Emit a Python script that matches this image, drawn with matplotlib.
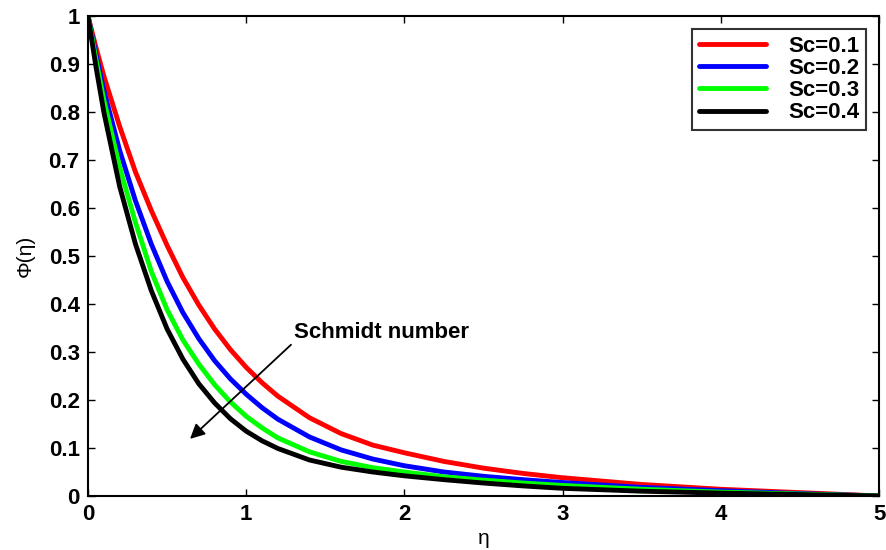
import matplotlib
matplotlib.use("Agg")
import matplotlib.pyplot as plt

# eta grid and concentration profiles
eta = [0, 0.05, 0.1, 0.2, 0.3, 0.4, 0.5, 0.6, 0.7, 0.8, 0.9, 1.0,
       1.1, 1.2, 1.4, 1.6, 1.8, 2.0, 2.25, 2.5, 2.75, 3.0, 3.5, 4.0, 4.5, 5.0]
phi_sc01 = [1.0, 0.935, 0.875, 0.77, 0.675, 0.595, 0.522, 0.455, 0.398, 0.348, 0.305, 0.268,
            0.236, 0.208, 0.163, 0.13, 0.106, 0.09, 0.072, 0.058, 0.047, 0.038,
            0.024, 0.014, 0.007, 0.0]
phi_sc02 = [1.0, 0.92, 0.845, 0.72, 0.615, 0.525, 0.447, 0.382, 0.328, 0.282, 0.244, 0.212,
            0.184, 0.16, 0.123, 0.096, 0.077, 0.063, 0.05, 0.041, 0.034, 0.028,
            0.018, 0.011, 0.005, 0.0]
phi_sc03 = [1.0, 0.91, 0.825, 0.685, 0.57, 0.468, 0.388, 0.325, 0.275, 0.232, 0.196, 0.166,
            0.142, 0.121, 0.092, 0.072, 0.059, 0.05, 0.04, 0.033, 0.027, 0.022,
            0.014, 0.008, 0.004, 0.0]
phi_sc04 = [1.0, 0.895, 0.80, 0.645, 0.525, 0.428, 0.348, 0.285, 0.234, 0.194, 0.161, 0.135,
            0.115, 0.099, 0.075, 0.06, 0.05, 0.042, 0.034, 0.027, 0.021, 0.016,
            0.01, 0.006, 0.003, 0.0]

labels = ["Sc=0.1", "Sc=0.2", "Sc=0.3", "Sc=0.4"]
colors = ["#ff0000", "#0000ff", "#00ff00", "#000000"]

plt.rcParams["font.family"] = ["Liberation Sans", "DejaVu Sans"]

fig = plt.figure(figsize=(8.87, 5.5), dpi=100)
ax = fig.add_axes([0.0992, 0.0982, 0.8918, 0.8728])

for ys, lab, c in zip([phi_sc01, phi_sc02, phi_sc03, phi_sc04], labels, colors):
    ax.plot(eta, ys, color=c, linewidth=3.5, label=lab,
            solid_joinstyle="round", solid_capstyle="round")

ax.set_xlim(0, 5)
ax.set_ylim(0, 1)
ax.set_xticks([0, 1, 2, 3, 4, 5])
ax.set_yticks([i / 10 for i in range(11)])
ax.set_yticklabels(["0", "0.1", "0.2", "0.3", "0.4", "0.5", "0.6", "0.7",
                    "0.8", "0.9", "1"])
ax.tick_params(direction="in", length=5, width=1, top=True, right=True,
               labelsize=16, pad=6)
for t in ax.get_xticklabels() + ax.get_yticklabels():
    t.set_fontweight("bold")
for s in ax.spines.values():
    s.set_linewidth(1.5)

ax.set_xlabel("η", fontsize=15, labelpad=3)
ax.set_ylabel("Φ(η)", fontsize=15, labelpad=10)

leg = ax.legend(loc="upper right", prop={"weight": "bold", "size": 16},
                frameon=True, fancybox=False, handlelength=3.0,
                borderpad=0.3, labelspacing=0.05, handletextpad=1.0,
                borderaxespad=0.6)
leg.get_frame().set_edgecolor("black")
leg.get_frame().set_linewidth(1.5)

ax.annotate("", xy=(0.632, 0.115), xytext=(1.296, 0.319),
            arrowprops=dict(arrowstyle="-|>", color="black", lw=1.3,
                            mutation_scale=22))
ax.text(1.3, 0.34, "Schmidt number", fontsize=16, fontweight="bold",
        ha="left", va="center")

fig.savefig("out.png", dpi=100)
